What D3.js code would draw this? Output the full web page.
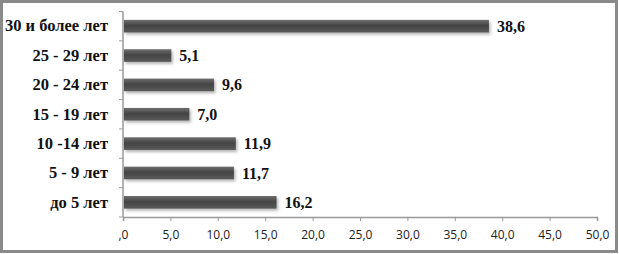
<!DOCTYPE html>
<html><head><meta charset="utf-8">
<script src="https://cdn.jsdelivr.net/npm/d3@7"></script>
<style>body{margin:0;background:#fff}svg{display:block}</style>
</head><body>
<script>
const categories = ["30 и более лет","25 - 29 лет","20 - 24 лет","15 - 19 лет","10 -14 лет","5 - 9 лет","до 5 лет"];
const values = [38.6,5.1,9.6,7.0,11.9,11.7,16.2];
const tickValues = [0,5,10,15,20,25,30,35,40,45,50];
const tickLabels = [",0","5,0","10,0","15,0","20,0","25,0","30,0","35,0","40,0","45,0","50,0"];

const W=619,H=254;
const svg=d3.select("body").append("svg").attr("width",W).attr("height",H);
const defs=svg.append("defs");
const g1=defs.append("linearGradient").attr("id","barg").attr("x1",0).attr("y1",0).attr("x2",0).attr("y2",1);
g1.append("stop").attr("offset","0%").attr("stop-color","#6e6e6e");
g1.append("stop").attr("offset","45%").attr("stop-color","#444");
g1.append("stop").attr("offset","100%").attr("stop-color","#5a5a5a");
const f=defs.append("filter").attr("id","sh").attr("x","-5%").attr("y","-30%").attr("width","115%").attr("height","180%");
f.append("feDropShadow").attr("dx",1.5).attr("dy",2).attr("stdDeviation",1.5).attr("flood-color","#000").attr("flood-opacity",0.3);

svg.append("rect").attr("x",1.5).attr("y",1.5).attr("width",W-4).attr("height",H-4)
  .attr("fill","#fff").attr("stroke","#8a8a8a").attr("stroke-width",3);

const x=d3.scaleLinear().domain([0,50]).range([123,597]);
const y=d3.scaleBand().domain(categories).range([11.5,217]).paddingInner(0.57).paddingOuter(0.285);

const xa=svg.append("g").attr("transform","translate(0,217)")
  .call(d3.axisBottom(x).tickValues(tickValues).tickSize(4).tickFormat((d,i)=>tickLabels[i]));
xa.select(".domain").attr("stroke","#999").attr("stroke-width",1.5);
xa.selectAll(".tick line").attr("stroke","#999");
xa.selectAll(".tick text").attr("font-family","'Open Sans',sans-serif").attr("font-size",12).attr("fill","#222").attr("dy","1.25em");

const yb=d3.scaleBand().domain(categories).range([11.5,217]);
const ya=svg.append("g").attr("transform","translate(123,0)")
  .call(d3.axisLeft(y).tickSize(0).tickPadding(15).tickFormat(d=>d));
ya.select(".domain").remove();
ya.selectAll(".tick text").attr("font-family","'Liberation Serif',serif").attr("font-size",16.5).attr("font-weight","bold").attr("fill","#111");
svg.append("g").selectAll("line").data(categories.concat(["_end"])).join("line")
  .attr("x1",119).attr("x2",123)
  .attr("y1",(d,i)=>11.5+i*yb.step()).attr("y2",(d,i)=>11.5+i*yb.step())
  .attr("stroke","#999");
svg.append("line").attr("x1",123).attr("x2",123).attr("y1",11.5).attr("y2",217).attr("stroke","#999").attr("stroke-width",1.5);

svg.append("g").selectAll("rect").data(values).join("rect")
  .attr("x",x(0)+1).attr("y",(d,i)=>y(categories[i]))
  .attr("width",d=>x(d)-x(0)-1).attr("height",y.bandwidth())
  .attr("fill","url(#barg)").attr("filter","url(#sh)");

svg.append("g").selectAll("text").data(values).join("text")
  .attr("x",d=>x(d)+8).attr("y",(d,i)=>y(categories[i])+y.bandwidth()/2).attr("dy","0.35em")
  .attr("font-family","'Liberation Serif',serif").attr("font-size",16).attr("font-weight","bold").attr("fill","#111")
  .text(d=>d.toFixed(1).replace(".",","));
</script>
</body></html>
